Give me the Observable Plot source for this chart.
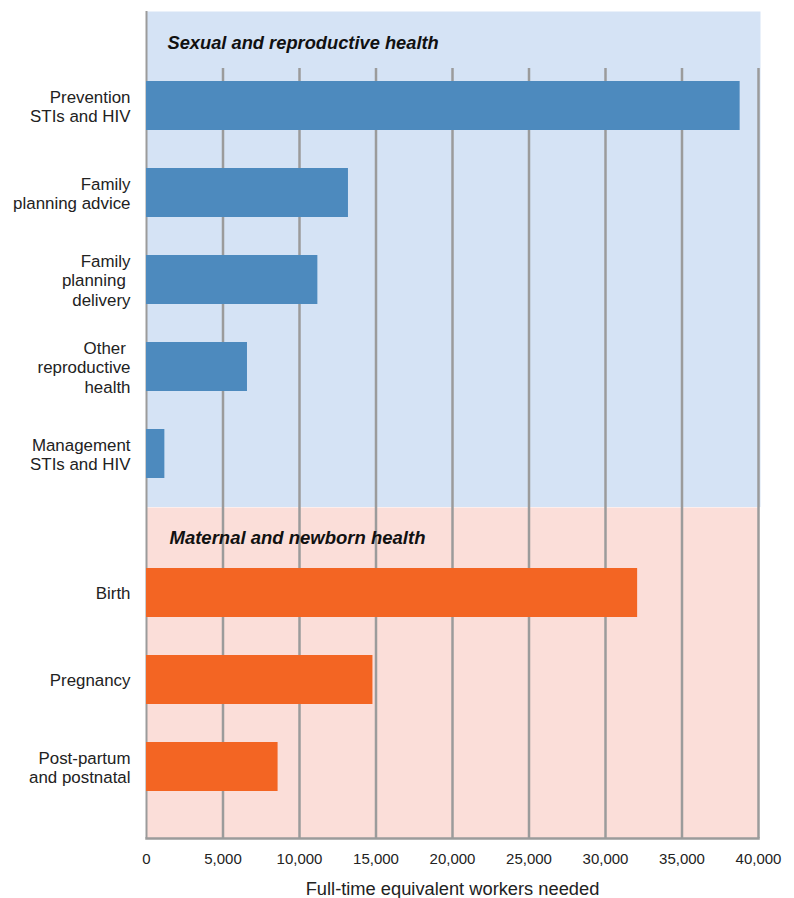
<!DOCTYPE html>
<html><head><meta charset="utf-8">
<script src="https://cdn.jsdelivr.net/npm/d3@7"></script>
<script src="https://cdn.jsdelivr.net/npm/@observablehq/plot@0.6"></script>
<style>
body{margin:0;background:#fff;font-family:"Liberation Sans",Arial,sans-serif}
#chart svg{display:block}
</style>
</head><body><div id="chart"></div>
<script>
// Sexual and reproductive health section
const srhCategories = ["Prevention STIs and HIV","Family planning advice","Family planning delivery","Other reproductive health","Management STIs and HIV"];
const srhLabels = ["Prevention\nSTIs and HIV","Family\nplanning advice","Family\nplanning \ndelivery","Other \nreproductive\nhealth","Management\nSTIs and HIV"];
const srhValues = [38800, 13200, 11200, 6600, 1200];
// Maternal and newborn health section
const mnhCategories = ["Birth","Pregnancy","Post-partum and postnatal"];
const mnhLabels = ["Birth","Pregnancy","Post-partum\nand postnatal"];
const mnhValues = [32100, 14800, 8600];
// Axis
const xTicks = [0,5000,10000,15000,20000,25000,30000,35000,40000];
const sectionTitles = ["Sexual and reproductive health","Maternal and newborn health"];
const xLabel = "Full-time equivalent workers needed";

const srh = srhCategories.map((c,i)=>({cat:c,label:srhLabels[i],value:srhValues[i]}));
const mnh = mnhCategories.map((c,i)=>({cat:c,label:mnhLabels[i],value:mnhValues[i]}));
const srhLab = new Map(srh.map(d=>[d.cat,d.label]));
const mnhLab = new Map(mnh.map(d=>[d.cat,d.label]));

const FONT = "Liberation Sans, Arial, sans-serif";
const GRID = "#9b9b9b";
const common = {width:794, marginLeft:146, marginRight:36, style:{background:"transparent", fontFamily:FONT, color:"#222"}};

const topPlot = Plot.plot({
  ...common,
  height:507, marginTop:11, marginBottom:0,
  x:{domain:[0,40000], axis:null},
  y:{domain:srhCategories, range:[62,497], paddingInner:0.437, paddingOuter:0.2185, axis:null},
  marks:[
    Plot.frame({fill:"#d5e3f5", insetRight:-2}),
    Plot.ruleX(xTicks.slice(1), {stroke:GRID, strokeWidth:2.5, insetTop:57}),
    Plot.ruleX([0], {stroke:GRID, strokeWidth:2}),
    Plot.barX(srh, {x:"value", y:"cat", fill:"#4d8abe"}),
    Plot.text([sectionTitles[0]], {frameAnchor:"top-left", dx:21, dy:32, lineAnchor:"middle", textAnchor:"start", fontSize:18.3, fontWeight:"bold", fontStyle:"italic", fill:"#111"}),
    Plot.axisY({tickSize:0, tickPadding:16, fontSize:16.9, lineHeight:1.15, label:null, tickFormat:d=>srhLab.get(d), fill:"#222"})
  ]
});

const bottomPlot = Plot.plot({
  ...common,
  height:391, marginTop:0, marginBottom:60,
  x:{domain:[0,40000], axis:null},
  y:{domain:mnhCategories, range:[42,303], paddingInner:0.437, paddingOuter:0.2185, axis:null},
  marks:[
    Plot.frame({fill:"#fbded9"}),
    Plot.ruleX(xTicks.slice(1), {stroke:GRID, strokeWidth:2.5}),
    Plot.ruleX([0], {stroke:GRID, strokeWidth:2}),
    Plot.frame({anchor:"bottom", stroke:GRID, strokeWidth:2.5}),
    Plot.barX(mnh, {x:"value", y:"cat", fill:"#f36523"}),
    Plot.text([sectionTitles[1]], {frameAnchor:"top-left", dx:23, dy:31, lineAnchor:"middle", textAnchor:"start", fontSize:18.5, fontWeight:"bold", fontStyle:"italic", fill:"#111"}),
    Plot.axisY({tickSize:0, tickPadding:16, fontSize:16.9, lineHeight:1.15, label:null, tickFormat:d=>mnhLab.get(d), fill:"#222"}),
    Plot.axisX(xTicks, {tickSize:0, tickPadding:15, fontSize:15, tickFormat:d3.format(","), label:null, fill:"#222"}),
    Plot.text([xLabel], {frameAnchor:"bottom", dy:51, lineAnchor:"middle", fontSize:18.3, fill:"#222"})
  ]
});

const el = document.getElementById("chart");
el.append(topPlot, bottomPlot);
</script>
</body></html>
